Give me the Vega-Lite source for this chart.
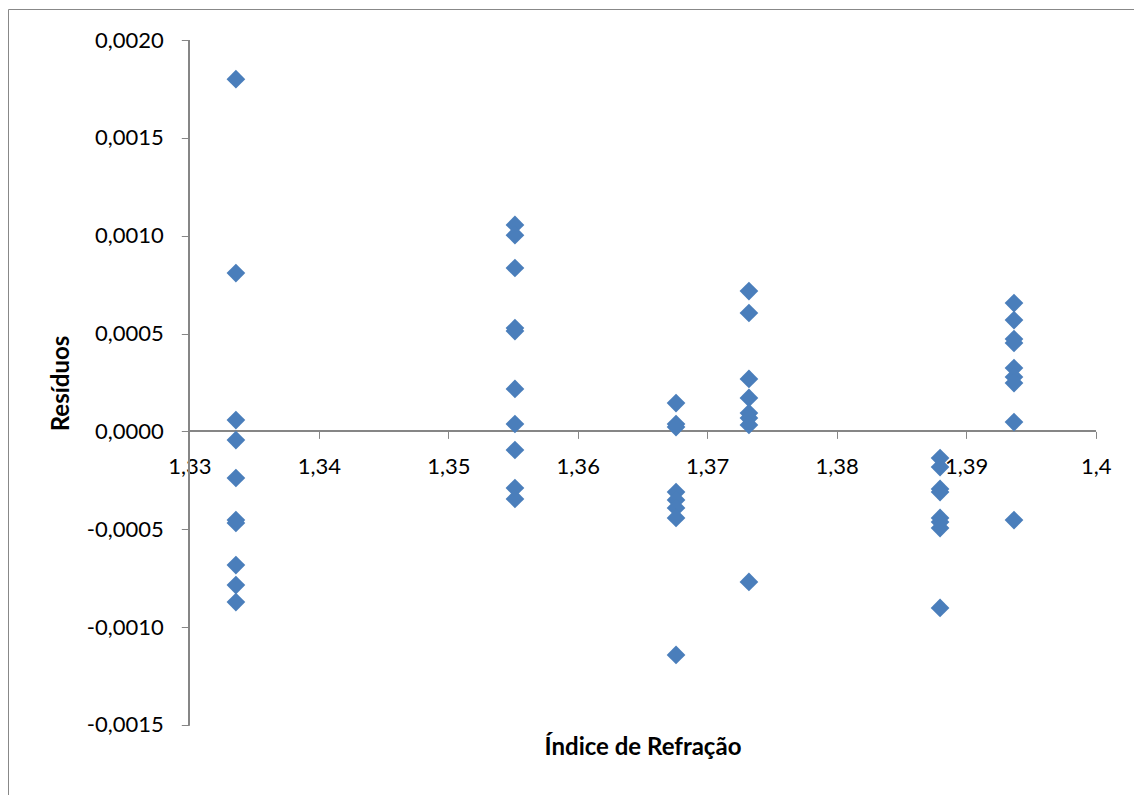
{
  "$schema": "https://vega.github.io/schema/vega-lite/v6.json",
  "width": 1126,
  "height": 786,
  "autosize": {"type": "none"},
  "padding": {"left": 8, "top": 9, "right": 0, "bottom": 0},
  "background": "white",
  "config": {
    "view": {"stroke": "#888888", "strokeWidth": 1},
    "font": "Lato",
    "locale": {"number": {"decimal": ",", "thousands": ".", "grouping": [3], "currency": ["", ""], "minus": "-"}}
  },
  "data": {"values": [
    {"n": 1.3336, "r": 0.0018}, {"n": 1.3336, "r": 0.000809}, {"n": 1.3336, "r": 0.000058}, {"n": 1.3336, "r": -0.000044},
    {"n": 1.3336, "r": -0.000238}, {"n": 1.3336, "r": -0.000453}, {"n": 1.3336, "r": -0.000468}, {"n": 1.3336, "r": -0.000683},
    {"n": 1.3336, "r": -0.000785}, {"n": 1.3336, "r": -0.000872},
    {"n": 1.35515, "r": 0.001055}, {"n": 1.35515, "r": 0.001003}, {"n": 1.35515, "r": 0.000835}, {"n": 1.35515, "r": 0.000528},
    {"n": 1.35515, "r": 0.000513}, {"n": 1.35515, "r": 0.000217}, {"n": 1.35515, "r": 0.000038}, {"n": 1.35515, "r": -0.000095},
    {"n": 1.35515, "r": -0.000289}, {"n": 1.35515, "r": -0.000345},
    {"n": 1.36759, "r": 0.000145}, {"n": 1.36759, "r": 0.000038}, {"n": 1.36759, "r": 0.000022}, {"n": 1.36759, "r": -0.00031},
    {"n": 1.36759, "r": -0.00035}, {"n": 1.36759, "r": -0.000391}, {"n": 1.36759, "r": -0.000442}, {"n": 1.36759, "r": -0.001142},
    {"n": 1.37322, "r": 0.000717}, {"n": 1.37322, "r": 0.000605}, {"n": 1.37322, "r": 0.000268}, {"n": 1.37322, "r": 0.000171},
    {"n": 1.37322, "r": 0.000094}, {"n": 1.37322, "r": 0.000068}, {"n": 1.37322, "r": 0.000033}, {"n": 1.37322, "r": -0.000769},
    {"n": 1.38798, "r": -0.000136}, {"n": 1.38798, "r": -0.000182}, {"n": 1.38798, "r": -0.000294}, {"n": 1.38798, "r": -0.00031},
    {"n": 1.38798, "r": -0.000442}, {"n": 1.38798, "r": -0.000463}, {"n": 1.38798, "r": -0.000494}, {"n": 1.38798, "r": -0.000902},
    {"n": 1.39369, "r": 0.000656}, {"n": 1.39369, "r": 0.000569}, {"n": 1.39369, "r": 0.000472}, {"n": 1.39369, "r": 0.000452},
    {"n": 1.39369, "r": 0.000324}, {"n": 1.39369, "r": 0.000278}, {"n": 1.39369, "r": 0.000247}, {"n": 1.39369, "r": 0.000048},
    {"n": 1.39369, "r": -0.000453}
  ]},
  "resolve": {"axis": {"x": "independent", "y": "independent"}},
  "layer": [
    {
      "mark": {"type": "rule", "color": "#868686", "strokeWidth": 1},
      "encoding": {
        "x": {"datum": 1.33, "axis": null},
        "y": {"datum": -0.0015, "axis": null},
        "y2": {"datum": 0.002}
      }
    },
    {
      "mark": {"type": "rule", "color": "#868686", "strokeWidth": 1},
      "encoding": {
        "y": {"datum": 0, "axis": null},
        "x": {"datum": 1.33, "axis": null},
        "x2": {"datum": 1.4}
      }
    },
    {
      "mark": {"type": "point", "shape": "diamond", "filled": true, "size": 350, "color": "#4A7EBB", "opacity": 1},
      "encoding": {
        "x": {
          "field": "n", "type": "quantitative",
          "scale": {"domain": [1.315999, 1.402958], "nice": false, "zero": false},
          "axis": {
            "title": "Índice de Refração",
            "titleFont": "Lato", "titleFontSize": 24, "titleFontWeight": "bold", "titleColor": "#000000",
            "titleX": 634.5, "titleY": 316, "titleBaseline": "middle", "titleAlign": "center",
            "offset": -363.6,
            "values": [1.33, 1.34, 1.35, 1.36, 1.37, 1.38, 1.39, 1.4],
            "format": ".2~f",
            "domain": false, "grid": false,
            "ticks": true, "tickSize": 7, "tickColor": "#868686", "tickWidth": 1,
            "labelFont": "Lato", "labelFontSize": 22, "labelColor": "#000000", "labelPadding": 18,
            "labelOverlap": false, "labelFlush": false
          }
        },
        "y": {
          "field": "r", "type": "quantitative",
          "scale": {"domain": [-0.0018577, 0.0021584], "nice": false, "zero": false},
          "axis": {
            "title": "Resíduos",
            "titleFont": "Lato", "titleFontSize": 24, "titleFontWeight": "bold", "titleColor": "#000000",
            "titleX": -128, "titleY": 374, "titleBaseline": "middle", "titleAlign": "center", "titleAngle": -90,
            "offset": -181.3,
            "values": [0.002, 0.0015, 0.001, 0.0005, 0, -0.0005, -0.001, -0.0015],
            "format": ".4f",
            "domain": false, "grid": false,
            "ticks": true, "tickSize": 8, "tickColor": "#868686", "tickWidth": 1,
            "labelFont": "Lato", "labelFontSize": 22, "labelColor": "#000000", "labelPadding": 18,
            "labelOverlap": false, "labelFlush": false
          }
        }
      }
    }
  ]
}
